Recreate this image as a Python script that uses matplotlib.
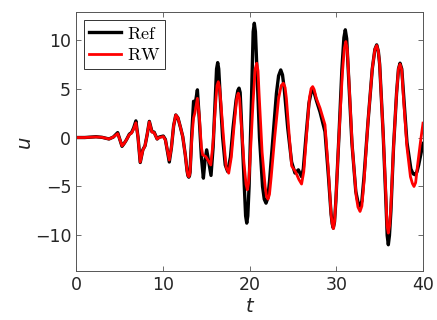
import numpy as np
import matplotlib
matplotlib.use("Agg")
import matplotlib.pyplot as plt

plt.rcParams["mathtext.fontset"] = "cm"

# Ref (black) curve
t_ref = [0, 1.0, 2.3, 3.0, 3.8, 4.3, 4.8, 5.05, 5.3, 5.55, 5.8, 6.15, 6.4, 6.65, 6.9,
         7.15, 7.4, 7.7, 7.95, 8.2, 8.45, 8.75, 9.0, 9.35, 9.6, 10.06, 10.3, 10.55,
         10.75, 11.0, 11.25, 11.5, 11.75, 12.05, 12.3, 12.6, 12.8, 12.9, 13.0, 13.08,
         13.15, 13.35, 13.55, 13.75, 13.99, 14.2, 14.45, 14.68, 14.85, 15.06, 15.3,
         15.56, 15.8, 16.05, 16.2, 16.33, 16.45, 16.6, 16.9, 17.2, 17.48, 17.8, 18.1,
         18.45, 18.65, 18.79, 18.92, 19.05, 19.35, 19.55, 19.68, 19.8, 19.95, 20.2,
         20.42, 20.55, 20.68, 20.85, 21.15, 21.5, 21.7, 21.9, 22.1, 22.3, 22.7, 23.1,
         23.35, 23.6, 23.8, 24.0, 24.4, 24.85, 25.24, 25.63, 26.0, 26.2, 26.5, 26.85,
         27.1, 27.28, 27.45, 27.7, 28.13, 28.7, 29.1, 29.4, 29.53, 29.66, 29.8, 29.95,
         30.3, 30.65, 30.88, 31.04, 31.2, 31.4, 31.8, 32.25, 32.5, 32.74, 32.95, 33.2,
         33.65, 34.15, 34.45, 34.66, 34.85, 35.0, 35.4, 35.7, 35.87, 36.0, 36.13, 36.3,
         36.6, 36.95, 37.17, 37.35, 37.55, 37.75, 38.15, 38.6, 38.85, 39.08, 39.3, 39.5,
         40.0]
u_ref = [0, 0.0, 0.08, 0.02, -0.15, 0.05, 0.5, -0.2, -0.9, -0.6, -0.25, 0.35, 0.5, 1.0, 1.7,
         0.0, -2.55, -1.25, -0.85, 0.3, 1.65, 0.6, 0.55, -0.15, 0.05, 0.15, -0.2, -1.5,
         -2.5, -1.0, 1.2, 2.3, 2.0, 1.0, 0.1, -1.8, -3.4, -3.9, -4.05, -3.9,
         -3.5, 0.5, 3.7, 3.5, 4.87, 2.0, -2.0, -4.15, -2.5, -1.26, -2.5,
         -3.87, -1.0, 4.0, 7.0, 7.65, 7.0, 4.5, 0.0, -2.8, -3.47, -2.0, 1.0,
         3.8, 4.8, 5.04, 4.6, 2.0, -4.0, -8.0, -8.74, -8.0, -5.0, 3.0,
         10.8, 11.67, 10.8, 7.0, 0.0, -5.0, -6.3, -6.7, -6.2, -4.5, 0.0, 4.5,
         6.3, 6.9, 6.4, 5.0, 1.0, -2.5, -3.63, -3.3, -4.0, -3.2, 0.0, 3.5,
         4.6, 4.87, 4.6, 3.8, 2.6, 0.6, -4.0, -7.8, -8.8, -9.25, -8.6, -6.5,
         0.0, 7.0, 10.2, 11.0, 10.1, 6.5, -0.5, -5.5, -6.6, -7.0, -6.5, -4.0,
         1.5, 7.0, 9.0, 9.46, 8.8, 7.5, 0.5, -6.0, -10.0, -10.95, -10.0, -7.5,
         -1.0, 4.5, 7.0, 7.59, 7.0, 4.5, -0.5, -3.2, -3.7, -3.8, -3.5, -2.8,
         -0.6]

# RW (red) curve
t_rw = [0, 1.0, 2.3, 3.0, 3.8, 4.3, 4.8, 5.05, 5.3, 5.55, 5.8, 6.15, 6.4, 6.65, 6.9,
        7.15, 7.4, 7.7, 7.95, 8.2, 8.45, 8.75, 9.0, 9.35, 9.6, 10.06, 10.3, 10.55,
        10.75, 11.0, 11.25, 11.5, 11.75, 12.05, 12.3, 12.6, 12.8, 12.9, 13.0, 13.08,
        13.15, 13.35, 13.55, 13.7, 13.99, 14.2, 14.45, 14.6, 14.95, 15.2, 15.53, 15.8,
        16.05, 16.25, 16.4, 16.55, 16.7, 17.0, 17.3, 17.6, 17.9, 18.2, 18.5, 18.6,
        18.71, 18.85, 19.0, 19.35, 19.6, 19.75, 19.9, 20.05, 20.4, 20.65, 20.83, 20.98,
        21.1, 21.45, 21.8, 21.95, 22.13, 22.3, 22.5, 22.9, 23.35, 23.65, 23.9, 24.1,
        24.25, 24.55, 24.86, 25.3, 25.7, 26.0, 26.25, 26.55, 26.9, 27.1, 27.28, 27.45,
        27.7, 28.13, 28.7, 29.1, 29.4, 29.53, 29.66, 29.8, 29.95, 30.3, 30.7, 30.93,
        31.1, 31.27, 31.45, 31.85, 32.3, 32.5, 32.74, 32.95, 33.2, 33.65, 34.15, 34.45,
        34.66, 34.85, 35.0, 35.4, 35.7, 35.85, 36.0, 36.15, 36.3, 36.6, 36.95, 37.17,
        37.35, 37.55, 37.75, 38.15, 38.55, 38.78, 38.96, 39.15, 39.35, 39.7, 40.0]
u_rw = [0, 0.0, 0.06, 0.02, -0.15, 0.05, 0.4, -0.2, -0.85, -0.6, -0.25, 0.3, 0.45, 0.9, 1.5,
        0.0, -2.5, -1.3, -0.85, 0.3, 1.6, 0.55, 0.5, -0.15, 0.0, 0.1, -0.25, -1.4,
        -2.3, -1.0, 1.2, 2.3, 2.0, 1.0, 0.1, -1.8, -3.4, -3.85, -4.0, -3.85,
        -3.5, 0.0, 2.0, 2.5, 4.0, 2.3, -1.0, -1.77, -1.94, -2.3, -2.8, -0.5,
        3.0, 5.3, 5.7, 5.1, 3.5, 0.0, -3.0, -3.64, -2.0, 1.0, 3.8, 4.3,
        4.53, 4.0, 2.0, -2.5, -4.8, -5.34, -4.6, -2.5, 3.5, 7.0, 7.59, 6.8,
        4.5, -1.5, -5.0, -6.0, -6.29, -5.8, -4.0, 0.0, 4.0, 5.3, 5.55, 5.1,
        4.0, 0.5, -2.9, -3.5, -4.3, -4.75, -3.5, 0.0, 4.0, 5.0, 5.2, 4.9,
        4.0, 3.0, 1.3, -3.5, -7.8, -8.8, -9.3, -8.6, -6.5, 0.0, 6.5, 9.1,
        9.8, 9.0, 6.0, -1.0, -6.0, -7.1, -7.55, -7.0, -4.5, 1.5, 7.0, 9.0,
        9.4, 8.8, 7.5, 0.5, -5.5, -9.0, -9.76, -9.0, -7.0, -1.0, 4.5, 7.0,
        7.5, 6.9, 4.0, -1.0, -4.0, -4.7, -5.0, -4.6, -3.0, -0.5, 1.47]

fig = plt.figure(figsize=(4.37, 3.2), dpi=100)
ax = fig.add_axes([0.174, 0.154, 0.794, 0.808])

ax.plot(t_ref, u_ref, color="black", lw=2.4, label=r"$\mathrm{Ref}$", solid_joinstyle="round")
ax.plot(t_rw, u_rw, color="red", lw=2.0, label=r"$\mathrm{RW}$", solid_joinstyle="round")

ax.set_xlim(0, 40)
ax.set_ylim(-13.6, 12.8)
ax.set_xticks([0, 10, 20, 30, 40])
ax.set_yticks([-10, -5, 0, 5, 10])

for s in ax.spines.values():
    s.set_color("#555555")
    s.set_linewidth(0.7)
ax.tick_params(direction="in", length=3.5, width=0.6, color="#555555",
               labelsize=12.5, labelcolor="#262626", top=True, right=True)

ax.set_xlabel("t", fontsize=14, color="#262626", labelpad=2.5, fontstyle="italic")
ax.set_ylabel("u", fontsize=14, color="#262626", labelpad=0.5, fontstyle="italic")

leg = ax.legend(loc="upper left", fontsize=13, frameon=True, fancybox=False,
                framealpha=1, edgecolor="#333333", handlelength=1.8,
                borderaxespad=0.45, borderpad=0.25, labelspacing=0.2,
                handletextpad=0.3)
leg.get_frame().set_linewidth(0.7)

fig.savefig("out.png", dpi=100)
